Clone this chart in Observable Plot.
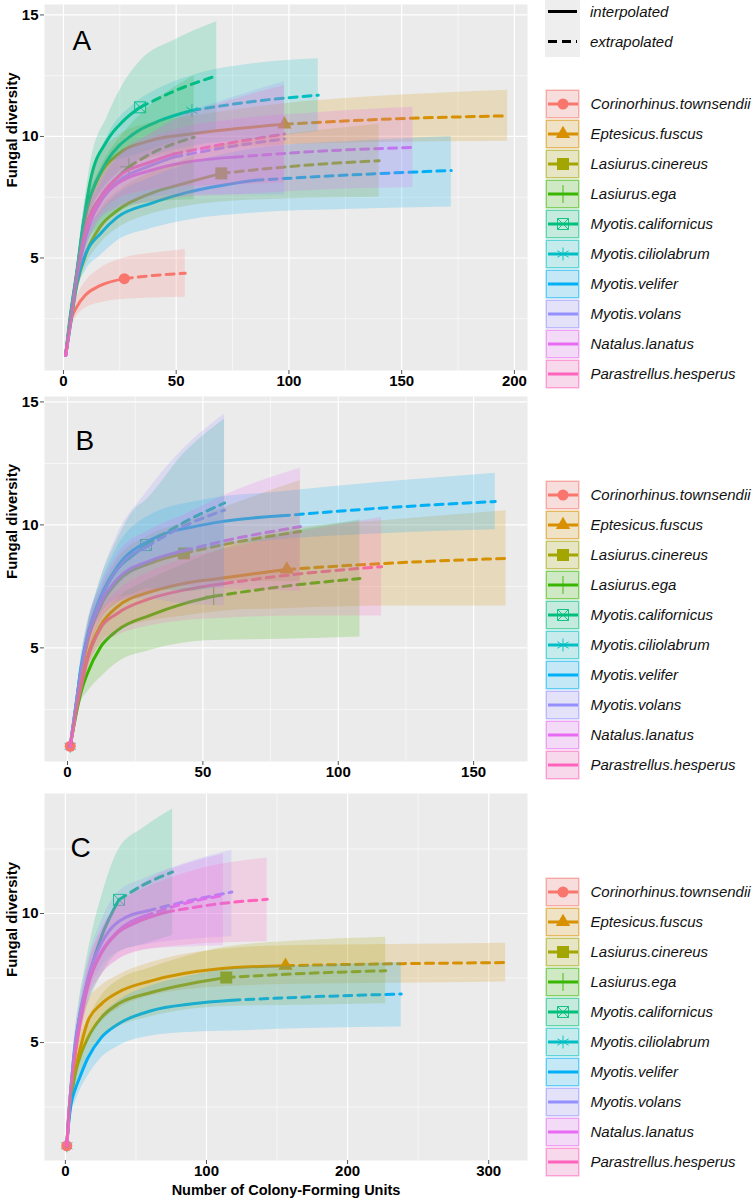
<!DOCTYPE html>
<html><head><meta charset="utf-8">
<script src="https://cdn.jsdelivr.net/npm/d3@7"></script>
<script src="https://cdn.jsdelivr.net/npm/@observablehq/plot@0.6"></script>
<style>
body{margin:0;background:#fff;}
#root{position:relative;width:756px;height:1199px;overflow:hidden;font-family:"Liberation Sans",Arial,sans-serif;}
.pnl{position:absolute;left:0;}
#legend{position:absolute;left:0;top:0;}
</style></head><body><div id="root"></div>
<script>
// ---------- categories / styles ----------
const species = ["Corinorhinus.townsendii","Eptesicus.fuscus","Lasiurus.cinereus","Lasiurus.ega","Myotis.californicus","Myotis.ciliolabrum","Myotis.velifer","Myotis.volans","Natalus.lanatus","Parastrellus.hesperus"];
const colors = ["#F8766D","#D89000","#A3A500","#39B600","#00BF7D","#00BFC4","#00B0F6","#9590FF","#E76BF3","#FF62BC"];
const shapes = ["circle","triangle","square","plus","squareX","asterisk","none","none","none","none"];
const methods = ["interpolated","extrapolated"];
const panelLetters = ["A","B","C"];
const yLabel = "Fungal diversity";
const xLabel = "Number of Colony-Forming Units";

// ---------- tick labels ----------
const xTicksA = [0,50,100,150,200], xMinorA = [25,75,125,175];
const xTicksB = [0,50,100,150],     xMinorB = [25,75,125];
const xTicksC = [0,100,200,300],    xMinorC = [50,150,250];
const yTicksAB = [5,10,15], yTicksC = [5,10], yMinor = [2.5,7.5,12.5];

// ---------- series values: [species, observed n, [[x, diversity, lower, upper], ...]] ----------
const curvesA = [
 ["Corinorhinus.townsendii",27,[[1,1,1,1],[3,2.3,2.0,2.6],[6,3.0,2.6,3.4],[10,3.5,2.95,4.05],[16,3.85,3.15,4.55],[27,4.15,3.3,5.0],[40,4.28,3.35,5.2],[54,4.37,3.38,5.35]]],
 ["Eptesicus.fuscus",98,[[1,1,1,1],[3,2.4,2.2,2.6],[6,4.4,4.0,4.8],[10.5,7.0,6.4,7.6],[16.4,8.45,7.7,9.2],[24,9.25,8.5,10.0],[38.6,9.83,9.1,10.55],[58,10.12,9.4,10.85],[98,10.5,9.65,11.35],[140,10.7,9.75,11.65],[197,10.85,9.8,11.9]]],
 ["Lasiurus.cinereus",70,[[1,1,1,1],[3,2.2,2.0,2.4],[6,3.9,3.6,4.2],[10.5,5.3,4.8,5.8],[16.4,6.3,5.6,7.0],[23.8,6.95,6.2,7.7],[38.6,7.65,6.8,8.5],[53,8.05,7.1,9.0],[70,8.48,7.3,9.65],[105,8.8,7.45,10.15],[140,9.0,7.5,10.5]]],
 ["Lasiurus.ega",29,[[1,1,1,1],[3,2.4,2.2,2.6],[6,4.3,3.9,4.7],[10.5,6.4,5.6,7.2],[16.4,7.5,6.3,8.7],[23.8,8.3,6.8,9.8],[29,8.75,7.1,10.4],[40,9.35,7.3,11.4],[58,9.97,7.4,12.5]]],
 ["Myotis.californicus",34,[[1,1,1,1],[3,2.6,2.4,2.8],[6,4.45,4.1,4.8],[9,6.5,6.0,7.0],[12,8.2,7.5,8.9],[19.4,9.83,8.9,10.8],[26.8,10.66,9.1,12.2],[34,11.2,9.3,13.1],[50,11.9,9.8,14.0],[68,12.5,10.3,14.72]]],
 ["Myotis.ciliolabrum",57,[[1,1,1,1],[3,2.5,2.3,2.7],[6,4.4,4.0,4.8],[9,6.5,6.0,7.0],[13.4,7.9,7.2,8.6],[19.4,9.0,8.0,10.0],[31,10.1,8.9,11.3],[43,10.66,9.3,12.0],[57,11.07,9.6,12.5],[85,11.45,9.9,13.0],[113,11.7,10.2,13.2]]],
 ["Myotis.velifer",85,[[1,1,1,1],[3,2.2,2.0,2.4],[6,4.0,3.6,4.4],[10,5.2,4.5,5.9],[16.4,6.0,5.1,6.9],[23.8,6.67,5.7,7.6],[38.6,7.24,6.2,8.3],[55,7.7,6.55,8.85],[85,8.2,6.85,9.5],[128,8.42,7.0,9.8],[172,8.6,7.1,10.0]]],
 ["Myotis.volans",49,[[1,1,1,1],[3,2.4,2.2,2.6],[6,4.3,3.9,4.7],[10,6.0,5.4,6.6],[16.4,7.3,6.6,8.0],[23.8,8.1,7.1,9.1],[38.6,8.8,7.5,10.1],[49,9.15,7.6,10.7],[75,9.6,7.6,11.6],[98,9.9,7.6,12.25]]],
 ["Natalus.lanatus",76,[[1,1,1,1],[3,2.3,2.1,2.5],[6,4.2,3.8,4.6],[10,5.9,5.3,6.5],[16.4,7.4,6.6,8.2],[23.8,8.05,7.0,9.1],[38.6,8.6,7.3,9.9],[55,8.95,7.5,10.4],[76,9.15,7.6,10.7],[115,9.4,7.8,11.0],[155,9.55,7.9,11.2]]],
 ["Parastrellus.hesperus",49,[[1,1,1,1],[3,2.4,2.2,2.6],[6,4.3,3.9,4.7],[10,6.2,5.6,6.8],[16.4,7.5,6.8,8.2],[23.8,8.3,7.4,9.2],[38.6,8.95,7.8,10.1],[49,9.28,7.9,10.65],[75,9.75,8.0,11.5],[98,10.1,8.1,12.1]]]
];
const curvesB = [
 ["Corinorhinus.townsendii",1,[[1,1,1,1]]],
 ["Eptesicus.fuscus",81,[[1,1,1,1],[3,2.3,2.1,2.5],[5,3.5,3.1,3.9],[7.3,4.6,4.1,5.1],[12.2,5.9,5.2,6.6],[18.4,6.67,5.7,7.7],[30.7,7.28,6.1,8.5],[43,7.62,6.3,8.9],[58,7.85,6.5,9.2],[81,8.19,6.6,9.8],[120,8.45,6.7,10.2],[162,8.64,6.7,10.57]]],
 ["Lasiurus.cinereus",43,[[1,1,1,1],[3,2.5,2.3,2.7],[5,3.9,3.5,4.3],[7.3,5.2,4.6,5.8],[12.2,6.7,6.1,7.3],[18.4,7.7,6.8,8.6],[30.7,8.45,7.3,9.6],[43,8.84,7.6,10.1],[60,9.25,7.7,10.8],[86,9.73,7.7,11.8]]],
 ["Lasiurus.ega",54,[[1,1,1,1],[3,2.2,2.0,2.4],[5,3.2,2.8,3.6],[7.3,3.95,3.2,4.7],[12.2,5.03,3.8,6.2],[18.4,5.71,4.4,7.0],[30.7,6.33,4.9,7.8],[43,6.8,5.2,8.4],[54,7.1,5.3,8.9],[80,7.5,5.35,9.65],[108,7.82,5.44,10.2]]],
 ["Myotis.californicus",29,[[1,1,1,1],[3,2.6,2.4,2.8],[5,4.1,3.7,4.5],[7.3,5.4,5.0,5.8],[12.2,7.0,6.3,7.8],[18.4,8.2,7.0,9.4],[24.6,8.8,7.2,10.6],[29,9.18,7.4,11.0],[43,10.1,7.3,12.9],[58,10.89,7.5,14.3]]],
 ["Myotis.ciliolabrum",1,[[1,1,1,1]]],
 ["Myotis.velifer",79,[[1,1,1,1],[3,2.5,2.3,2.7],[4.8,4.08,3.7,4.5],[7.3,5.44,4.9,6.0],[12.2,7.07,6.5,7.6],[18.4,8.3,7.5,9.1],[30.7,9.39,8.4,10.4],[50,10.0,9.0,11.0],[79,10.37,9.4,11.35],[118,10.7,9.65,11.75],[158,10.95,9.8,12.1]]],
 ["Myotis.volans",29,[[1,1,1,1],[3,2.6,2.4,2.8],[5,4.1,3.7,4.5],[7.3,5.4,5.0,5.8],[12.2,7.0,6.3,7.8],[18.4,8.2,6.9,9.6],[29,9.1,7.0,11.3],[42,9.9,6.8,13.0],[58,10.6,6.7,14.5]]],
 ["Natalus.lanatus",43,[[1,1,1,1],[3,2.5,2.3,2.7],[5,3.95,3.55,4.35],[7.3,5.3,4.7,5.9],[12.2,6.8,6.1,7.5],[18.4,7.8,6.8,8.8],[30.7,8.55,7.3,9.8],[43,8.95,7.5,10.4],[60,9.4,7.4,11.3],[86,9.93,7.3,12.3]]],
 ["Parastrellus.hesperus",58,[[1,1,1,1],[3,2.3,2.1,2.5],[5,3.4,3.0,3.8],[7.3,4.5,4.0,5.0],[12.2,5.8,5.1,6.5],[18.4,6.4,5.5,7.3],[30.7,7.01,5.9,8.1],[43,7.35,6.1,8.6],[58,7.62,6.2,9.0],[85,8.0,6.3,9.7],[116,8.3,6.3,10.3]]]
];
const curvesC = [
 ["Corinorhinus.townsendii",1,[[1,1,1,1]]],
 ["Eptesicus.fuscus",156,[[1,1,1,1],[2,1.8,1.7,1.9],[4,2.9,2.6,3.2],[7,3.9,3.4,4.4],[11.3,4.94,4.3,5.6],[16,5.84,5.1,6.6],[25.4,6.49,5.8,7.2],[37.2,6.94,6.3,7.6],[60.7,7.39,6.8,8.1],[107.8,7.85,7.15,8.6],[156,7.98,7.25,8.75],[230,8.05,7.3,8.8],[312,8.1,7.35,8.85]]],
 ["Lasiurus.cinereus",114,[[1,1,1,1],[2,1.8,1.7,1.9],[4,2.8,2.5,3.1],[7,3.8,3.3,4.3],[11.3,4.6,3.9,5.3],[16,5.19,4.5,5.9],[25.4,5.96,5.2,6.8],[37.2,6.49,5.6,7.4],[60.7,6.94,6.0,7.9],[90,7.3,6.3,8.4],[114,7.52,6.4,8.7],[170,7.68,6.45,8.95],[227,7.78,6.5,9.08]]],
 ["Myotis.californicus",38,[[1,1,1,1],[2,1.9,1.8,2.0],[4,3.3,3.0,3.6],[7,4.9,4.4,5.4],[10,6.0,5.4,6.7],[13.6,6.9,6.1,7.8],[18.3,7.9,6.8,9.1],[25.4,9.08,7.6,10.6],[38,10.53,8.5,12.5],[55,11.1,8.8,13.3],[76,11.61,9.15,14.05]]],
 ["Myotis.ciliolabrum",1,[[1,1,1,1]]],
 ["Myotis.velifer",118,[[1,1,1,1],[2,1.7,1.6,1.8],[4,2.6,2.3,2.9],[7,3.2,2.7,3.7],[10,3.63,3.1,4.2],[16,4.41,3.7,5.1],[25.4,5.19,4.4,6.0],[37.2,5.71,4.85,6.6],[60.7,6.23,5.25,7.2],[90,6.5,5.4,7.6],[118,6.64,5.45,7.85],[178,6.78,5.55,8.0],[238,6.88,5.6,8.1]]],
 ["Myotis.volans",58,[[1,1,1,1],[2,1.9,1.8,2.0],[4,3.3,3.0,3.6],[7,5.0,4.5,5.5],[10,6.0,5.4,6.6],[16,7.5,6.8,8.2],[25.4,8.83,7.9,9.7],[37,9.66,8.5,10.8],[58,10.1,8.8,11.4],[88,10.5,9.0,12.0],[118,10.83,9.1,12.45]]],
 ["Natalus.lanatus",56,[[1,1,1,1],[2,1.9,1.8,2.0],[4,3.2,2.9,3.5],[7,4.6,4.1,5.1],[10,5.7,5.1,6.3],[16,7.3,6.6,8.0],[25.4,8.5,7.6,9.4],[37,9.3,8.2,10.3],[56,9.9,8.6,11.2],[85,10.4,8.7,11.9],[112,10.7,8.75,12.3]]],
 ["Parastrellus.hesperus",71,[[1,1,1,1],[2,1.9,1.8,2.0],[4,3.2,2.9,3.5],[7,4.6,4.1,5.1],[10,5.6,5.0,6.2],[16,7.2,6.5,7.9],[25.4,8.45,7.6,9.3],[37,9.25,8.2,10.3],[50,9.65,8.5,10.8],[71,10.05,8.7,11.3],[105,10.35,8.85,11.85],[143,10.55,8.9,12.15]]]
];

// ---------- drawing ----------
const FONT = '"Liberation Sans", Arial, sans-serif';
const colorScale = {domain: species, range: colors};
const shapeOf = sp => shapes[species.indexOf(sp)];

function makePanel(cfg) {
  const all = [], solid = [], dashed = [], obs = [];
  for (const [sp, n, pts] of cfg.curves) {
    for (const [x, y, lo, hi] of pts) {
      const r = {sp, x, y, lo, hi, shape: shapeOf(sp)};
      all.push(r);
      if (x <= n) solid.push(r);
      if (x >= n) dashed.push(r);
      if (x === n) obs.push(r);
    }
  }
  const sh = s => obs.filter(d => d.shape === s);
  const marks = [
    Plot.frame({fill: "#EBEBEB", stroke: "none"}),
    Plot.gridX({ticks: cfg.xMinor, stroke: "#fff", strokeOpacity: 1, strokeWidth: 0.6}),
    Plot.gridY({ticks: yMinor, stroke: "#fff", strokeOpacity: 1, strokeWidth: 0.6}),
    Plot.gridX({ticks: cfg.xTicks, stroke: "#fff", strokeOpacity: 1, strokeWidth: 1.2}),
    Plot.gridY({ticks: cfg.yTicks, stroke: "#fff", strokeOpacity: 1, strokeWidth: 1.2}),
    Plot.dot(sh("asterisk"), {x: "x", y: "y", stroke: "sp", symbol: "asterisk", r: 6.15, strokeWidth: 0.9}),
    Plot.dot(sh("circle"), {x: "x", y: "y", fill: "sp", symbol: "circle", r: 5.5}),
    Plot.dot(sh("triangle"), {x: "x", y: "y", fill: "sp", symbol: "triangle", r: 5.3}),
    Plot.dot(sh("square"), {x: "x", y: "y", fill: "sp", symbol: "square", r: 6.77}),
    Plot.dot(sh("plus"), {x: "x", y: "y", stroke: "sp", symbol: "plus", r: 5.8, strokeWidth: 0.9}),
    Plot.dot(sh("squareX"), {x: "x", y: "y", stroke: "sp", symbol: "square2", r: 7, strokeWidth: 0.9}),
    Plot.dot(sh("squareX"), {x: "x", y: "y", stroke: "sp", symbol: "times", r: 5.07, strokeWidth: 0.9}),
    Plot.line(solid, {x: "x", y: "y", z: "sp", stroke: "sp", strokeWidth: 3, curve: "monotone-x"}),
    Plot.line(dashed, {x: "x", y: "y", z: "sp", stroke: "sp", strokeWidth: 3, strokeDasharray: "8,6", curve: "monotone-x"}),
    Plot.areaY(all, {x: "x", y1: "lo", y2: "hi", z: "sp", fill: "sp", fillOpacity: 0.2, curve: "monotone-x"}),
    Plot.axisX({ticks: cfg.xTicks, tickSize: 4, tickPadding: 1, stroke: "#555", fill: "#000", label: null}),
    Plot.axisY({ticks: cfg.yTicks, tickSize: 4, tickPadding: 2, stroke: "#555", fill: "#000", label: null}),
    Plot.text([cfg.letter], {frameAnchor: "top-left", dx: cfg.ldx, dy: cfg.ldy, text: d => d, fontSize: 28, fill: "#000", fontWeight: "normal"}),
    Plot.text([yLabel], {frameAnchor: "left", dx: -32, rotate: -90, text: d => d, fontSize: 15, fontWeight: "bold", fill: "#000"})
  ];
  if (cfg.xLabel) marks.push(Plot.text([cfg.xLabel], {frameAnchor: "bottom", lineAnchor: "middle", dy: 30, text: d => d, fontSize: 14.5, fontWeight: "bold", fill: "#000"}));
  return Plot.plot({
    width: 756, height: cfg.height,
    marginLeft: 44, marginRight: 229, marginTop: cfg.mt, marginBottom: cfg.mb,
    style: {fontFamily: FONT, fontSize: "15px", fontWeight: "bold", background: "transparent", overflow: "visible"},
    x: {domain: cfg.xDomain},
    y: {domain: cfg.yDomain},
    color: colorScale,
    marks
  });
}

const root = document.getElementById("root");
const panels = [
  {top: 0, curves: curvesA, xDomain: [-8.4, 205.8], yDomain: [0.37, 15.43], xTicks: xTicksA, xMinor: xMinorA, yTicks: yTicksAB, height: 390, mt: 4, mb: 20, letter: panelLetters[0], ldx: 28, ldy: 26},
  {top: 390, curves: curvesB, xDomain: [-8.5, 169.9], yDomain: [0.38, 15.22], xTicks: xTicksB, xMinor: xMinorB, yTicks: yTicksAB, height: 390, mt: 6, mb: 19, letter: panelLetters[1], ldx: 31, ldy: 34},
  {top: 780, curves: curvesC, xDomain: [-14.8, 327.5], yDomain: [0.43, 14.65], xTicks: xTicksC, xMinor: xMinorC, yTicks: yTicksC, height: 419, mt: 13, mb: 39, letter: panelLetters[2], ldx: 26, ldy: 44, xLabel: xLabel}
];
for (const p of panels) {
  const div = document.createElement("div");
  div.className = "pnl"; div.style.top = p.top + "px";
  div.appendChild(makePanel(p));
  root.appendChild(div);
}

// ---------- legends ----------
const svg = d3.create("svg").attr("id", "legend").attr("width", 756).attr("height", 1199)
  .style("font-family", FONT);
const mg = svg.append("g");
mg.append("rect").attr("x", 545).attr("y", -3).attr("width", 35).attr("height", 60).attr("fill", "#EEEEEE");
methods.forEach((m, i) => {
  const cy = 11.5 + i * 30;
  mg.append("line").attr("x1", 548).attr("x2", 577).attr("y1", cy).attr("y2", cy)
    .attr("stroke", "#000").attr("stroke-width", 3).attr("stroke-dasharray", i ? "9,5" : null);
  mg.append("text").attr("x", 590).attr("y", cy).attr("dy", "0.35em").attr("font-size", 15)
    .attr("font-style", "italic").attr("fill", "#111").text(m);
});
const symSize = {circle: Math.PI*5.5*5.5, triangle: Math.PI*5.3*5.3, square: Math.PI*6.77*6.77, plus: Math.PI*5.8*5.8, asterisk: Math.PI*6.15*6.15};
function speciesLegend(top) {
  const g = svg.append("g");
  species.forEach((sp, i) => {
    const t = top + i * 30, c = colors[i], cx = 563, cy = t + 15;
    g.append("rect").attr("x", 545.5).attr("y", t + 0.5).attr("width", 34).attr("height", 29).attr("fill", "#F7F7F7");
    g.append("rect").attr("x", 546.3).attr("y", t + 1.3).attr("width", 32.4).attr("height", 27.4)
      .attr("fill", c).attr("fill-opacity", 0.2).attr("stroke", c).attr("stroke-opacity", 0.55).attr("stroke-width", 1.4);
    g.append("line").attr("x1", 548).attr("x2", 578).attr("y1", cy).attr("y2", cy).attr("stroke", c).attr("stroke-width", 3);
    const s = shapes[i];
    const sym = (type, size) => d3.symbol().type(type).size(size)();
    if (s === "circle") g.append("path").attr("d", sym(d3.symbolCircle, symSize.circle)).attr("transform", `translate(${cx},${cy})`).attr("fill", c);
    if (s === "triangle") g.append("path").attr("d", sym(d3.symbolTriangle, symSize.triangle)).attr("transform", `translate(${cx},${cy})`).attr("fill", c);
    if (s === "square") g.append("path").attr("d", sym(d3.symbolSquare, symSize.square)).attr("transform", `translate(${cx},${cy})`).attr("fill", c);
    if (s === "plus") g.append("path").attr("d", sym(d3.symbolPlus, symSize.plus)).attr("transform", `translate(${cx},${cy})`).attr("fill", "none").attr("stroke", c).attr("stroke-width", 0.9);
    if (s === "asterisk") g.append("path").attr("d", sym(d3.symbolAsterisk, symSize.asterisk)).attr("transform", `translate(${cx},${cy})`).attr("fill", "none").attr("stroke", c).attr("stroke-width", 0.9);
    if (s === "squareX") {
      g.append("path").attr("d", sym(d3.symbolSquare2, Math.PI*49)).attr("transform", `translate(${cx},${cy})`).attr("fill", "none").attr("stroke", c).attr("stroke-width", 0.9);
      g.append("path").attr("d", sym(d3.symbolTimes, Math.PI*5.07*5.07)).attr("transform", `translate(${cx},${cy})`).attr("fill", "none").attr("stroke", c).attr("stroke-width", 0.9);
    }
    g.append("text").attr("x", 590.5).attr("y", cy).attr("dy", "0.35em").attr("font-size", 15)
      .attr("font-style", "italic").attr("fill", "#111").text(sp);
  });
}
speciesLegend(89);
speciesLegend(480);
speciesLegend(877);
root.appendChild(svg.node());
</script>
</body></html>
